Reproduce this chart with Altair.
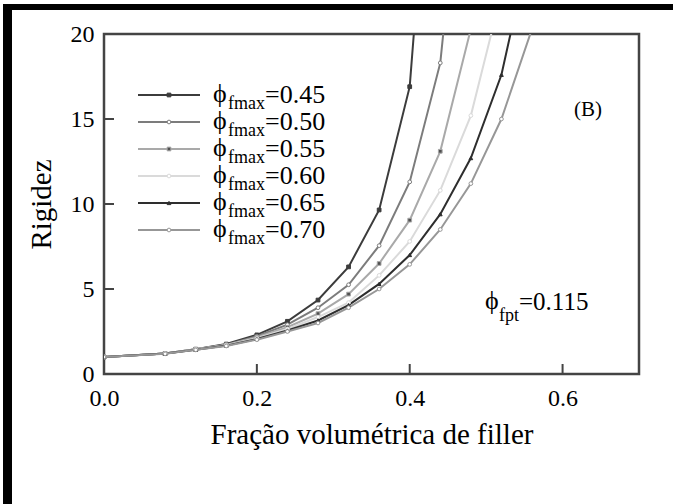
import altair as alt
import pandas as pd

# ---------------- data ----------------
series_names = ["0.45", "0.50", "0.55", "0.60", "0.65", "0.70"]
x_grid = [0.0, 0.08, 0.12, 0.16, 0.20, 0.24, 0.28, 0.32, 0.36, 0.40, 0.44, 0.48, 0.52, 0.56]

y_045 = [1.0, 1.2, 1.46, 1.76, 2.30, 3.10, 4.35, 6.30, 9.65, 16.9, 40.0]
y_050 = [1.0, 1.2, 1.45, 1.73, 2.22, 2.90, 3.90, 5.25, 7.55, 11.3, 18.3, 36.0]
y_055 = [1.0, 1.2, 1.45, 1.71, 2.16, 2.75, 3.55, 4.70, 6.50, 9.05, 13.1, 20.3]
y_060 = [1.0, 1.2, 1.44, 1.69, 2.10, 2.65, 3.35, 4.20, 5.80, 7.80, 10.8, 15.2, 22.4]
y_065 = [1.0, 1.2, 1.43, 1.67, 2.06, 2.56, 3.15, 4.05, 5.30, 7.00, 9.40, 12.7, 17.6, 25.7]
y_070 = [1.0, 1.19, 1.42, 1.65, 2.02, 2.50, 3.00, 3.90, 5.00, 6.45, 8.50, 11.2, 15.0, 20.3]
series_values = [y_045, y_050, y_055, y_060, y_065, y_070]

x_ticks = [0.2, 0.4, 0.6]
x_labels = [0.0, 0.2, 0.4, 0.6]
y_ticks = [5, 10, 15]
y_labels = [0, 5, 10, 15, 20]

# ---------------- styles ----------------
line_colors = ["#3c3c3c", "#7c7c7c", "#a9a9a9", "#dadada", "#2e2e2e", "#979797"]
fill_colors = ["#3c3c3c", "#ffffff", "#505050", "#ffffff", "#2e2e2e", "#ffffff"]
shapes = ["square", "circle", "square", "circle", "triangle-up", "circle"]
FONT = "Liberation Serif, Times New Roman, Times, serif"
W, H = 535, 340
AX = "#444444"

rows = []
for name, vals in zip(series_names, series_values):
    for xv, yv in zip(x_grid, vals):
        rows.append({"x": xv, "y": yv, "series": name})
df = pd.DataFrame(rows)

xscale = alt.Scale(domain=[0, 0.7], nice=False, zero=False)
yscale = alt.Scale(domain=[0, 20], nice=False)

xaxis = alt.Axis(values=x_labels, format=".1f", ticks=False, domain=False, grid=False,
                 labelFont=FONT, labelFontSize=24, labelColor="black", labelPadding=12,
                 labelFlush=False,
                 title="Fração volumétrica de filler", titleFont=FONT, titleFontSize=29,
                 titleFontWeight="normal", titleColor="black", titlePadding=10)
yaxis = alt.Axis(values=y_labels, format="d", ticks=False, domain=False, grid=False,
                 labelFont=FONT, labelFontSize=24, labelColor="black", labelPadding=10,
                 labelFlush=False,
                 title="Rigidez", titleFont=FONT, titleFontSize=29,
                 titleFontWeight="normal", titleColor="black", titlePadding=14)

color_scale = alt.Scale(domain=series_names, range=line_colors)
fill_scale = alt.Scale(domain=series_names, range=fill_colors)
shape_scale = alt.Scale(domain=series_names, range=shapes)

lines = alt.Chart(df).mark_line(clip=True, strokeWidth=2).encode(
    x=alt.X("x:Q", scale=xscale, axis=xaxis),
    y=alt.Y("y:Q", scale=yscale, axis=yaxis),
    color=alt.Color("series:N", scale=color_scale, legend=None),
    order=alt.Order("x:Q"),
)
points = alt.Chart(df).mark_point(clip=True, size=14, strokeWidth=1, opacity=1, fillOpacity=1).encode(
    x="x:Q", y="y:Q",
    stroke=alt.Stroke("series:N", scale=color_scale, legend=None),
    fill=alt.Fill("series:N", scale=fill_scale, legend=None),
    shape=alt.Shape("series:N", scale=shape_scale, legend=None),
)

xt = alt.Chart(pd.DataFrame({"x": x_ticks})).mark_rule(color=AX, strokeWidth=2).encode(
    x="x:Q", y=alt.value(H), y2=alt.value(H - 10))
yt = alt.Chart(pd.DataFrame({"y": y_ticks})).mark_rule(color=AX, strokeWidth=2).encode(
    y="y:Q", x=alt.value(0), x2=alt.value(10))

dummy = pd.DataFrame({"a": [0]})
layers = [lines, points, xt, yt]

# black frame (top and left) of the original figure
layers.append(alt.Chart(dummy).mark_rect(color="black", clip=False).encode(
    x=alt.value(-101), x2=alt.value(-92), y=alt.value(-30), y2=alt.value(470)))
layers.append(alt.Chart(dummy).mark_rect(color="black", clip=False).encode(
    x=alt.value(-101), x2=alt.value(569), y=alt.value(-30), y2=alt.value(-24)))

# manual legend
for i, name in enumerate(series_names):
    ry = 61 + 27 * i
    layers.append(alt.Chart(dummy).mark_rule(color=line_colors[i], strokeWidth=2).encode(
        x=alt.value(34), x2=alt.value(96), y=alt.value(ry)))
    layers.append(alt.Chart(dummy).mark_point(shape=shapes[i], size=14, strokeWidth=1,
                                              stroke=line_colors[i], fill=fill_colors[i],
                                              opacity=1, fillOpacity=1).encode(
        x=alt.value(65), y=alt.value(ry)))
    layers.append(alt.Chart(dummy).mark_text(text="ϕ", font=FONT, fontSize=26, align="left",
                                             baseline="alphabetic", color="black").encode(
        x=alt.value(109), y=alt.value(ry + 7)))
    layers.append(alt.Chart(dummy).mark_text(text="fmax", font=FONT, fontSize=18, align="left",
                                             baseline="alphabetic", color="black").encode(
        x=alt.value(124), y=alt.value(ry + 14)))
    layers.append(alt.Chart(dummy).mark_text(text="=" + name, font=FONT, fontSize=26, align="left",
                                             baseline="alphabetic", color="black").encode(
        x=alt.value(161), y=alt.value(ry + 8)))

# annotations
layers.append(alt.Chart(dummy).mark_text(text="(B)", font=FONT, fontSize=21, align="center",
                                         baseline="middle", color="black").encode(
    x=alt.value(484), y=alt.value(76)))
layers.append(alt.Chart(dummy).mark_text(text="ϕ", font=FONT, fontSize=26, align="left",
                                         baseline="alphabetic", color="black").encode(
    x=alt.value(381), y=alt.value(275)))
layers.append(alt.Chart(dummy).mark_text(text="fpt", font=FONT, fontSize=18, align="left",
                                         baseline="alphabetic", color="black").encode(
    x=alt.value(395), y=alt.value(287)))
layers.append(alt.Chart(dummy).mark_text(text="=0.115", font=FONT, fontSize=25, align="left",
                                         baseline="alphabetic", color="black").encode(
    x=alt.value(415), y=alt.value(276)))

chart = alt.layer(*layers).properties(
    width=W, height=H,
    autosize=alt.AutoSizeParams(type="none"),
    padding={"left": 104, "top": 34, "right": 34, "bottom": 130},
    background="white",
).configure_view(stroke=AX, strokeWidth=2.5).configure_axis(
    labelFont=FONT, titleFont=FONT
).configure_text(font=FONT)

chart.save("out.html", embed_options={"renderer": "svg", "actions": False})
